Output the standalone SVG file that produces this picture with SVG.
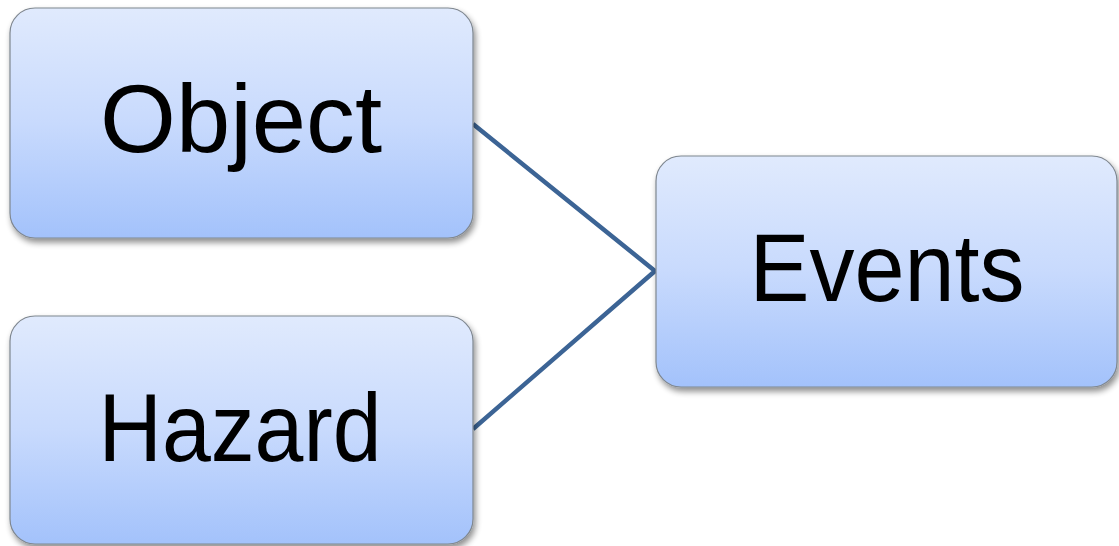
<svg xmlns="http://www.w3.org/2000/svg" width="1119" height="546" viewBox="0 0 1119 546">
  <defs>
    <linearGradient id="boxFill" x1="0" y1="0" x2="0" y2="1">
      <stop offset="0" stop-color="#e0eafd"/>
      <stop offset="0.5" stop-color="#c8dafd"/>
      <stop offset="1" stop-color="#a3c2fb"/>
    </linearGradient>
    <filter id="shadow" x="-10%" y="-10%" width="125%" height="130%">
      <feGaussianBlur in="SourceAlpha" stdDeviation="3"/>
      <feOffset dx="2" dy="4" result="blur"/>
      <feComponentTransfer><feFuncA type="linear" slope="0.45"/></feComponentTransfer>
      <feMerge><feMergeNode/><feMergeNode in="SourceGraphic"/></feMerge>
    </filter>
  </defs>
  <style>
    .box { fill: url(#boxFill); stroke: #7f8790; stroke-width: 1.2; filter: url(#shadow); }
    .label { font-family: "Liberation Sans", Arial, sans-serif; font-size: 97px; fill: #000; text-anchor: middle; }
    .link { stroke: #3c6495; stroke-width: 4.5; fill: none; stroke-linejoin: miter; }
  </style>
  <rect width="1119" height="546" fill="#ffffff"/>

  <g id="connectors">
    <polyline class="link" points="473,124 655,271 473,429"/>
  </g>

  <g id="node-object">
    <rect class="box" x="10" y="8" width="463" height="230" rx="25" ry="25"/>
    <text class="label" x="241" y="152" textLength="282" lengthAdjust="spacingAndGlyphs">Object</text>
  </g>

  <g id="node-hazard">
    <rect class="box" x="10" y="316" width="463" height="228" rx="25" ry="25"/>
    <text class="label" x="240" y="461" textLength="283" lengthAdjust="spacingAndGlyphs">Hazard</text>
  </g>

  <g id="node-events">
    <rect class="box" x="656" y="156" width="461" height="231" rx="25" ry="25"/>
    <text class="label" x="887" y="301" textLength="275" lengthAdjust="spacingAndGlyphs">Events</text>
  </g>
</svg>
